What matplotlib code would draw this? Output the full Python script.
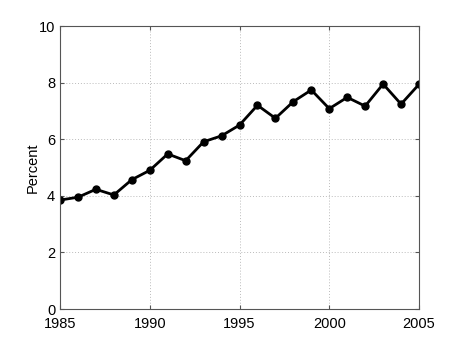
import matplotlib
matplotlib.use('Agg')
import matplotlib.pyplot as plt

years = list(range(1985, 2006))
percent = [3.85, 3.95, 4.23, 4.03, 4.57, 4.90, 5.48, 5.24, 5.91, 6.12, 6.50,
           7.20, 6.74, 7.33, 7.74, 7.08, 7.48, 7.17, 7.95, 7.24, 7.94]

plt.rcParams['font.family'] = ['Liberation Sans', 'DejaVu Sans']

fig = plt.figure(figsize=(4.63, 3.47), dpi=100)
ax = fig.add_axes([0.1296, 0.1095, 0.7754, 0.8155])

ax.plot(years, percent, color='black', linewidth=2, marker='o', markersize=5)

ax.set_xlim(1985, 2005)
ax.set_ylim(0, 10)
ax.set_xticks([1985, 1990, 1995, 2000, 2005])
ax.set_yticks([0, 2, 4, 6, 8, 10])
ax.set_ylabel('Percent', fontsize=10.5, labelpad=-1)
ax.tick_params(direction='in', labelsize=10.5, length=3, color='#555555',
               top=True, right=True)
ax.tick_params(axis='x', pad=6)
ax.grid(True, linestyle=(0, (1, 2)), color='#bbbbbb', linewidth=0.7)
for s in ax.spines.values():
    s.set_color('#555555')
    s.set_linewidth(0.8)

fig.savefig('out.png', dpi=100)
